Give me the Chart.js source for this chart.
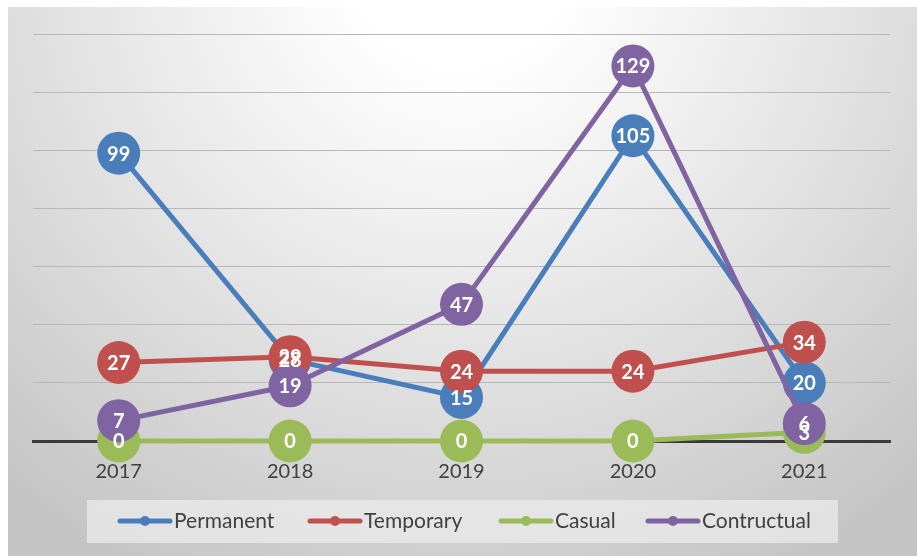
<!DOCTYPE html>
<html><head><meta charset="utf-8">
<script src="https://cdn.jsdelivr.net/npm/chart.js@4/dist/chart.umd.min.js"></script>
<style>html,body{margin:0;padding:0;background:#fff}#wrap{width:917px;height:556px}</style>
</head><body><div id="wrap"><canvas id="c" width="917" height="556"></canvas></div>
<script>
const categories = ['2017','2018','2019','2020','2021'];
const permanent = [99, 28, 15, 105, 20];
const temporary = [27, 29, 24, 24, 34];
const casual = [0, 0, 0, 0, 3];
const contructual = [7, 19, 47, 129, 6];
const seriesNames = ['Permanent','Temporary','Casual','Contructual'];
const seriesColors = ['#4A7EBB','#C0504D','#9BBB59','#8064A2'];
const yTicks = [0,20,40,60,80,100,120,140];

const FONT = 'Lato, "Liberation Sans", sans-serif';

const bgPlugin = {
  id: 'bg',
  beforeDraw(chart) {
    const ctx = chart.ctx;
    ctx.save();
    ctx.fillStyle = '#fff';
    ctx.fillRect(0,0,917,556);
    const g = ctx.createRadialGradient(460, -40, 0, 460, -40, 700);
    g.addColorStop(0, '#ffffff');
    g.addColorStop(0.15, '#ffffff');
    g.addColorStop(0.55, '#e4e4e4');
    g.addColorStop(1, '#c4c4c4');
    ctx.fillStyle = g;
    ctx.fillRect(8, 7, 917-8, 556-7);
    ctx.fillStyle = 'rgba(235,235,235,0.75)';
    ctx.fillRect(87, 500, 751, 43);
    ctx.restore();
  }
};

const legendPlugin = {
  id: 'customLegend',
  afterDraw(chart) {
    const ctx = chart.ctx;
    const starts = [118, 308, 499, 646];
    const y = 521;
    ctx.save();
    chart.data.datasets.forEach((ds, i) => {
      const x = starts[i];
      ctx.strokeStyle = ds.borderColor;
      ctx.lineWidth = 5;
      ctx.lineCap = 'round';
      ctx.beginPath(); ctx.moveTo(x+2, y); ctx.lineTo(x+52, y); ctx.stroke();
      ctx.fillStyle = ds.borderColor;
      ctx.beginPath(); ctx.arc(x+27, y, 5, 0, Math.PI*2); ctx.fill();
      ctx.fillStyle = '#404040';
      ctx.font = '21px ' + FONT;
      ctx.textBaseline = 'middle';
      ctx.textAlign = 'left';
      ctx.fillText(ds.label, x+56, y);
    });
    ctx.restore();
  }
};

const labelPlugin = {
  id: 'pointLabels',
  afterDatasetsDraw(chart) {
    const ctx = chart.ctx;
    ctx.save();
    ctx.font = 'bold 20px ' + FONT;
    ctx.fillStyle = '#ffffff';
    ctx.textAlign = 'center';
    ctx.textBaseline = 'middle';
    chart.data.datasets.forEach((ds, i) => {
      const meta = chart.getDatasetMeta(i);
      meta.data.forEach((pt, j) => {
        ctx.fillText(String(ds.data[j]), pt.x, pt.y + 1);
      });
    });
    ctx.restore();
  }
};

const allSeries = [permanent, temporary, casual, contructual];
const datasets = allSeries.map((d, i) => ({
  label: seriesNames[i],
  data: d,
  borderColor: seriesColors[i],
  backgroundColor: seriesColors[i],
  pointBackgroundColor: seriesColors[i],
  pointBorderColor: seriesColors[i],
  borderWidth: 5,
  pointRadius: 21.5,
  pointHoverRadius: 21.5,
  pointBorderWidth: 0,
  tension: 0,
  clip: false,
  order: 3 - i
}));

new Chart(document.getElementById('c'), {
  type: 'line',
  data: { labels: categories, datasets },
  options: {
    responsive: false,
    animation: false,
    events: [],
    layout: { padding: { left: 33, right: 27, top: 34, bottom: 53 } },
    plugins: { legend: { display: false }, tooltip: { enabled: false } },
    scales: {
      x: {
        offset: true,
        grid: { display: false, drawTicks: false },
        border: { display: true, color: '#3a3a3a', width: 3 },
        ticks: { color: '#404040', font: { family: FONT, size: 20 }, padding: 19 }
      },
      y: {
        min: 0, max: 140,
        afterBuildTicks(scale) { scale.ticks = yTicks.map(v => ({ value: v })); },
        grid: { color: '#b8b8b8', lineWidth: 1, drawTicks: false },
        border: { display: false },
        ticks: { display: false }
      }
    }
  },
  plugins: [bgPlugin, labelPlugin, legendPlugin]
});
</script></body></html>
